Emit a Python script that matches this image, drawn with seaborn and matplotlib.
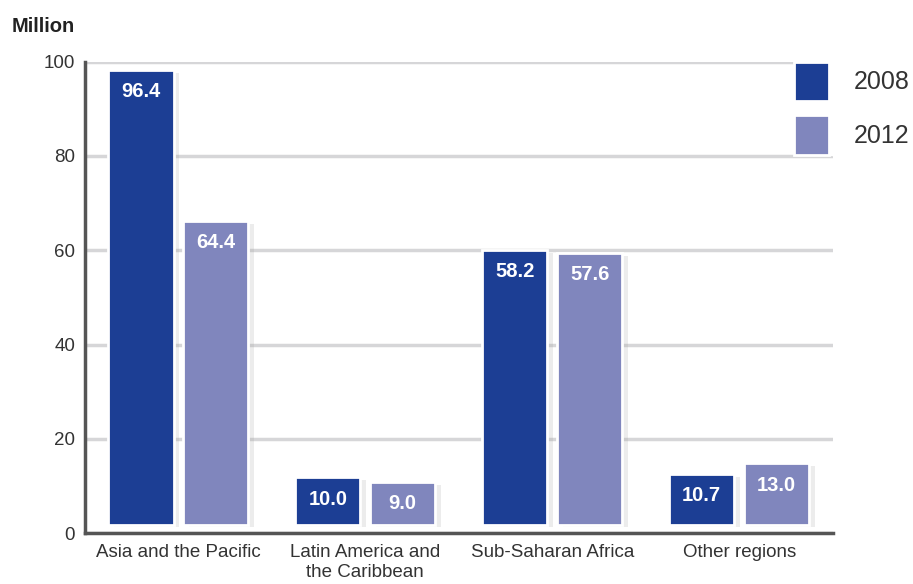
import pandas as pd
import seaborn as sns
import matplotlib.pyplot as plt
import matplotlib.patheffects as pe

# Data
regions = ['Asia and the Pacific', 'Latin America and\nthe Caribbean',
           'Sub-Saharan Africa', 'Other regions']
years = ['2008', '2012']
values_2008 = [96.4, 10.0, 58.2, 10.7]
values_2012 = [64.4, 9.0, 57.6, 13.0]

df = pd.DataFrame({
    'region': regions * 2,
    'year': [years[0]] * 4 + [years[1]] * 4,
    'value': values_2008 + values_2012,
})

sns.set_style('white')
plt.rcParams['font.family'] = ['Liberation Sans', 'DejaVu Sans']

fig = plt.figure(figsize=(9.13, 5.84), dpi=100)
ax = fig.add_axes([0.093, 0.0873, 0.819, 0.807])

palette = {'2008': '#1c3e94', '2012': '#8086bd'}
sns.barplot(data=df, x='region', y='value', hue='year', palette=palette,
            width=0.8, gap=0.13, saturation=1, edgecolor='white', linewidth=2,
            ax=ax, zorder=3)

# bars float slightly above the axis line, with a soft shadow
for p in ax.patches:
    if p.get_height() > 0:
        p.set_y(1.8)
        p.set_path_effects([pe.SimplePatchShadow(offset=(4, -2), shadow_rgbFace='#999999', alpha=0.18),
                            pe.Normal()])

for container in ax.containers:
    for bar, v in zip(container, container.datavalues):
        cx = bar.get_x() + bar.get_width() / 2
        top = bar.get_y() + bar.get_height()
        ax.text(cx, top - 2.6, f'{v:.1f}', ha='center', va='top', color='white',
                fontsize=14.5, fontweight='bold', zorder=5)

ax.set_ylim(0, 100)
ax.set_xlim(-0.5, 3.5)
ax.set_yticks([0, 20, 40, 60, 80, 100])
ax.yaxis.grid(True, color='#d6d6d8', linewidth=2.5, zorder=0)
ax.set_axisbelow(True)
ax.set_xlabel('')
ax.set_ylabel('')
for side in ['top', 'right']:
    ax.spines[side].set_visible(False)
for side in ['left', 'bottom']:
    ax.spines[side].set_color('#555555')
    ax.spines[side].set_linewidth(2.5)
ax.tick_params(axis='both', length=0, labelsize=13.5, colors='#333333')
ax.tick_params(axis='y', pad=7)
ax.tick_params(axis='x', pad=8)

fig.text(0.013, 0.955, 'Million', fontsize=14.5, fontweight='bold', color='#222222',
         va='center', ha='left')

handles, labels = ax.get_legend_handles_labels()
leg = ax.legend(handles, labels, loc='upper left', bbox_to_anchor=(0.948, 1.0),
                frameon=True, facecolor='white', edgecolor='white', framealpha=1,
                fontsize=18, handlelength=1.4, handleheight=2.05,
                handletextpad=1.0, labelspacing=0.56, borderpad=0.0,
                borderaxespad=0)
for t in leg.get_texts():
    t.set_color('#333333')
leg.set_zorder(6)

fig.savefig('out.png', dpi=100)
